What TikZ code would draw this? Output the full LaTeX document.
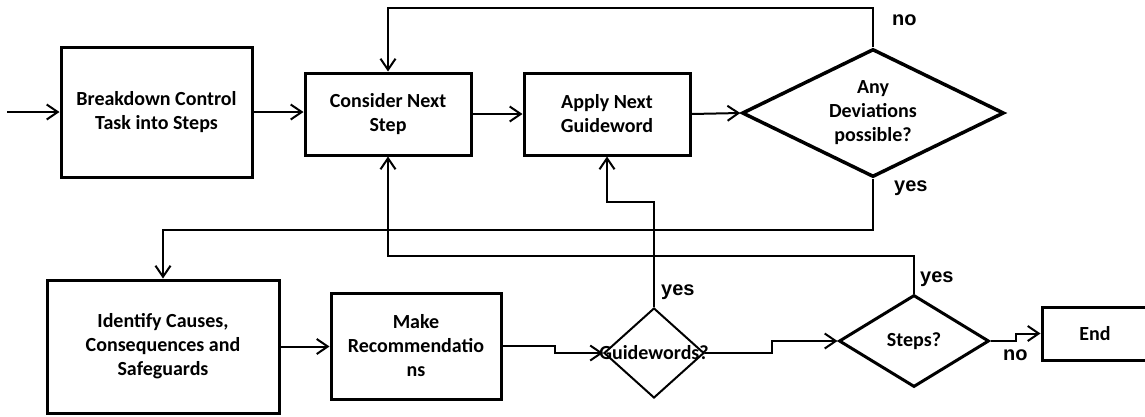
\documentclass[tikz,border=0pt]{standalone}
\usepackage{fontspec}
\setmainfont{Carlito}
\newfontfamily\lblfont{Liberation Sans}
\usetikzlibrary{arrows.meta,shapes.geometric,calc}

\tikzset{
  txt/.style={font=\bfseries\fontsize{20}{24}\selectfont},
  procbox/.style={draw, line width=3pt, align=center, inner sep=0pt, txt},
  decision/.style={diamond, draw, align=center, inner sep=0pt, txt},
  flow/.style={line width=2pt},
  arr/.style={flow, -{Straight Barb[length=11pt,width=15pt,line width=2pt]}},
  answer/.style={font=\lblfont\bfseries\fontsize{20}{24}\selectfont, inner sep=0pt, anchor=base west},
}

\begin{document}
\begin{tikzpicture}[x=1pt, y=-1pt]
\useasboundingbox (0,0) rectangle (1145,416);

% upper row
\coordinate (entry) at (7,112);
\node[procbox, minimum width=191pt, minimum height=130pt] (b1) at (156.5,112) {Breakdown Control\\Task into Steps};
\node[procbox, minimum width=166pt, minimum height=82pt] (b2) at (388,114) {Consider Next\\Step};
\node[procbox, minimum width=166pt, minimum height=82pt] (b3) at (607,114) {Apply Next\\Guideword};
\node[decision, line width=3.5pt, aspect=2, minimum width=262pt, minimum height=128pt] (d1) at (873,113) {Any\\Deviations\\possible?};

% lower row
\node[procbox, minimum width=232pt, minimum height=133pt] (b4) at (163,346.5) {Identify Causes,\\Consequences and\\Safeguards};
\node[procbox, minimum width=170pt, minimum height=106pt] (b5) at (416,346) {Make\\Recommendatio\\ns};
\node[diamond, draw, line width=2pt, inner sep=0pt, minimum width=100pt, minimum height=90pt] (gw) at (654,353) {};
\node[decision, line width=3pt, aspect=1.6, minimum width=150pt, minimum height=92pt] (st) at (914,341) {Steps?};
% the End box runs past the right edge of the page
\node[procbox, minimum width=112pt, minimum height=53pt] (end) at (1098,333.5) {\hspace*{-6pt}End};

% connectors
\draw[arr] (entry) -- (b1.west);
\draw[arr] (b1.east) -- (b1.east -| b2.west);
\draw[arr] (b2.east) -- (b3.west);
\draw[arr] (b3.east) -- (d1.west);
\draw[arr] (d1.north) -- ++(0,-39) -| (b2.north);
\draw[arr] (d1.south) -- ++(0,51) -| (b4.north);
\draw[arr] (b4.east) -- (b4.east -| b5.west);
\draw[arr] (b5.east) -- ++(52,0) |- (gw.west);
\draw[arr] (gw.north) -- ++(0,-105) -| (b3.south);
\draw[arr] (gw.east) -- ++(67,0) |- (st.west);
\draw[arr] (st.north) -- ++(0,-38) -| (b2.south);
\draw[arr] (st.east) -- ++(25,0) |- (end.west);

% text of the small decision, set over its outline
\node[txt, inner sep=0pt] (gwtext) at (gw.center) {Guidewords?};

% branch answers
\node[answer] (no1) at (892,25) {no};
\node[answer] (yes1) at (894,191) {yes};
\node[answer] (yes2) at (661,295) {yes};
\node[answer] (yes3) at (920,282) {yes};
\node[answer] (no2) at (1003,360) {no};
\end{tikzpicture}
\end{document}
